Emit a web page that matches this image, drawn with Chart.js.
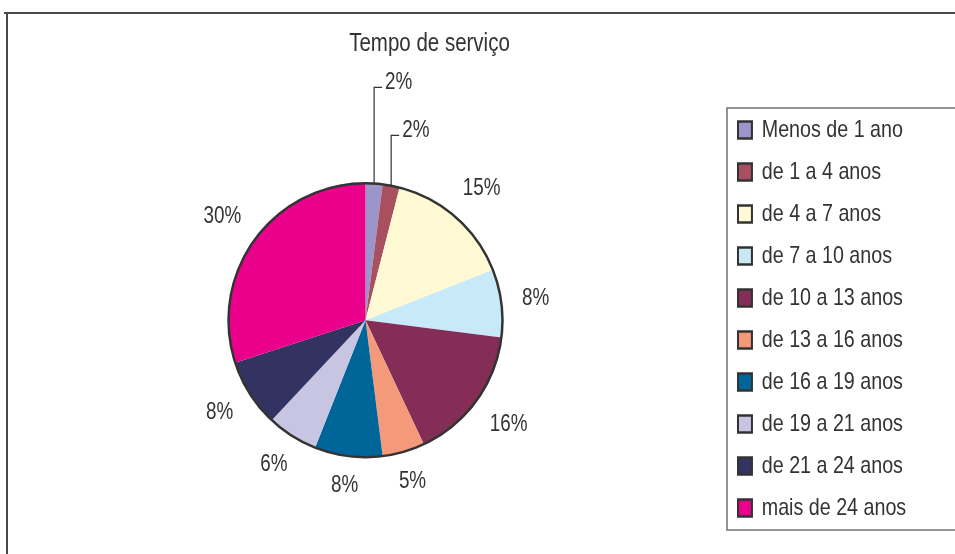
<!DOCTYPE html>
<html>
<head>
<meta charset="utf-8">
<title>Tempo de serviço</title>
<script src="https://cdn.jsdelivr.net/npm/chart.js@4.4.1/dist/chart.umd.min.js"></script>
<style>
  html, body { margin: 0; padding: 0; background: #fff; }
  canvas { display: block; }
</style>
</head>
<body>
<canvas id="chartTempo" width="955" height="554"></canvas>
<script>
// dados do gráfico
const faixas = ['Menos de 1 ano', 'de 1 a 4 anos', 'de 4 a 7 anos', 'de 7 a 10 anos', 'de 10 a 13 anos',
    'de 13 a 16 anos', 'de 16 a 19 anos', 'de 19 a 21 anos', 'de 21 a 24 anos', 'mais de 24 anos'];
const percentuais = [2, 2, 15, 8, 16, 5, 8, 6, 8, 30];
const cores = ['#9b95c9', '#a8505f', '#fffad4', '#c7e9f8', '#842d57',
    '#f4997a', '#006699', '#c8c5e2', '#333361', '#ea008a'];

const fonte = '"Liberation Sans", Arial, sans-serif';
const estreito = 0.82; // a fonte do original é condensada
Chart.defaults.color = '#333';
Chart.defaults.font.family = fonte;

// desenha um bloco do Chart.js comprimido na horizontal em torno de cx
function comprimir(bloco, cx) {
    if (bloco._comprimido) return;
    const orig = bloco.draw.bind(bloco);
    bloco.draw = function (area) {
        const ctx = this.ctx;
        ctx.save();
        ctx.translate(cx(this), 0);
        ctx.scale(estreito, 1);
        ctx.translate(-cx(this), 0);
        orig(area);
        ctx.restore();
    };
    bloco._comprimido = true;
}

// moldura e caixa da legenda
const moldura = {
    id: 'moldura',
    beforeDraw(chart) {
        const ctx = chart.ctx;
        ctx.save();
        ctx.fillStyle = '#fff';
        ctx.fillRect(0, 0, chart.width, chart.height);
        ctx.strokeStyle = '#4a4a4a';
        ctx.lineWidth = 2;
        ctx.beginPath();
        ctx.moveTo(4, 13);
        ctx.lineTo(chart.width, 13);
        ctx.moveTo(7, 13);
        ctx.lineTo(7, chart.height);
        ctx.stroke();
        ctx.strokeStyle = '#707070';
        ctx.lineWidth = 1.5;
        ctx.strokeRect(727, 108, 260, 422);
        ctx.restore();
    },
    afterLayout(chart) {
        // titulo e legenda no lugar do original
        const t = chart.titleBlock;
        t.left = 0; t.right = 859; t.width = 859;
        comprimir(t, b => (b.left + b.right) / 2);
        const lg = chart.legend;
        lg.left = 720; lg.top = 100; lg.right = 955; lg.bottom = 540;
        lg.width = lg.right - lg.left; lg.height = lg.bottom - lg.top;
        comprimir(lg, b => b.left + 18);
    }
};

// contorno da pizza e rótulos de porcentagem
const rotulos = {
    id: 'rotulos',
    afterDatasetsDraw(chart) {
        const ctx = chart.ctx;
        const arcs = chart.getDatasetMeta(0).data;
        if (!arcs.length) return;
        const c = arcs[0].getProps(['x', 'y', 'outerRadius'], true);
        ctx.save();
        ctx.strokeStyle = '#333';
        ctx.lineWidth = 2.5;
        ctx.beginPath();
        ctx.arc(c.x, c.y, c.outerRadius, 0, Math.PI * 2);
        ctx.stroke();

        ctx.font = '23px ' + fonte;
        ctx.fillStyle = '#333';
        ctx.lineWidth = 1.2;
        ctx.textBaseline = 'middle';
        const escrever = (texto, tx, ty, alinhar) => {
            ctx.save();
            ctx.translate(tx, ty);
            ctx.scale(estreito, 1);
            ctx.textAlign = alinhar;
            ctx.fillText(texto, 0, 0);
            ctx.restore();
        };
        let pequenos = 0;
        arcs.forEach((arc, i) => {
            const { x, y, startAngle, endAngle, outerRadius } =
                arc.getProps(['x', 'y', 'startAngle', 'endAngle', 'outerRadius'], true);
            const texto = percentuais[i] + '%';
            const a = (startAngle + endAngle) / 2;
            const ux = Math.cos(a), uy = Math.sin(a);
            const w = ctx.measureText(texto).width * estreito;
            if (percentuais[i] < 3) {
                const px = x + ux * outerRadius, py = y + uy * outerRadius;
                const ly = y - outerRadius - 96 + 48 * pequenos;
                ctx.beginPath();
                ctx.moveTo(px, py);
                ctx.lineTo(px, ly);
                ctx.lineTo(px + 8, ly);
                ctx.stroke();
                escrever(texto, px + 11, ly - 5, 'left');
                pequenos++;
            } else {
                const d = outerRadius + 20 + (w / 2) * Math.abs(ux) + 8 * Math.abs(uy);
                escrever(texto, x + ux * d, y + uy * d, 'center');
            }
        });
        ctx.restore();
    }
};

new Chart(document.getElementById('chartTempo'), {
    type: 'pie',
    data: {
        labels: faixas,
        datasets: [{
            data: percentuais,
            backgroundColor: cores,
            borderWidth: 0,
            hoverOffset: 0,
            radius: 137,
        }],
    },
    options: {
        responsive: false,
        animation: false,
        layout: { padding: { left: 20, right: 244, top: 14, bottom: 0 } },
        plugins: {
            title: {
                display: true,
                text: 'Tempo de serviço',
                font: { size: 25, weight: 'normal' },
                color: '#333',
                padding: { top: 15, bottom: 27.6 },
            },
            legend: {
                position: 'chartArea',
                align: 'start',
                labels: {
                    boxWidth: 17,
                    boxHeight: 17,
                    padding: 18,
                    color: '#333',
                    font: { size: 24 },
                    generateLabels(chart) {
                        const base = Chart.overrides.doughnut.plugins.legend.labels.generateLabels(chart);
                        return base.map(l => ({ ...l, strokeStyle: '#333', lineWidth: 2.5 }));
                    },
                },
            },
            tooltip: { enabled: false },
        },
    },
    plugins: [moldura, rotulos],
});
</script>
</body>
</html>
